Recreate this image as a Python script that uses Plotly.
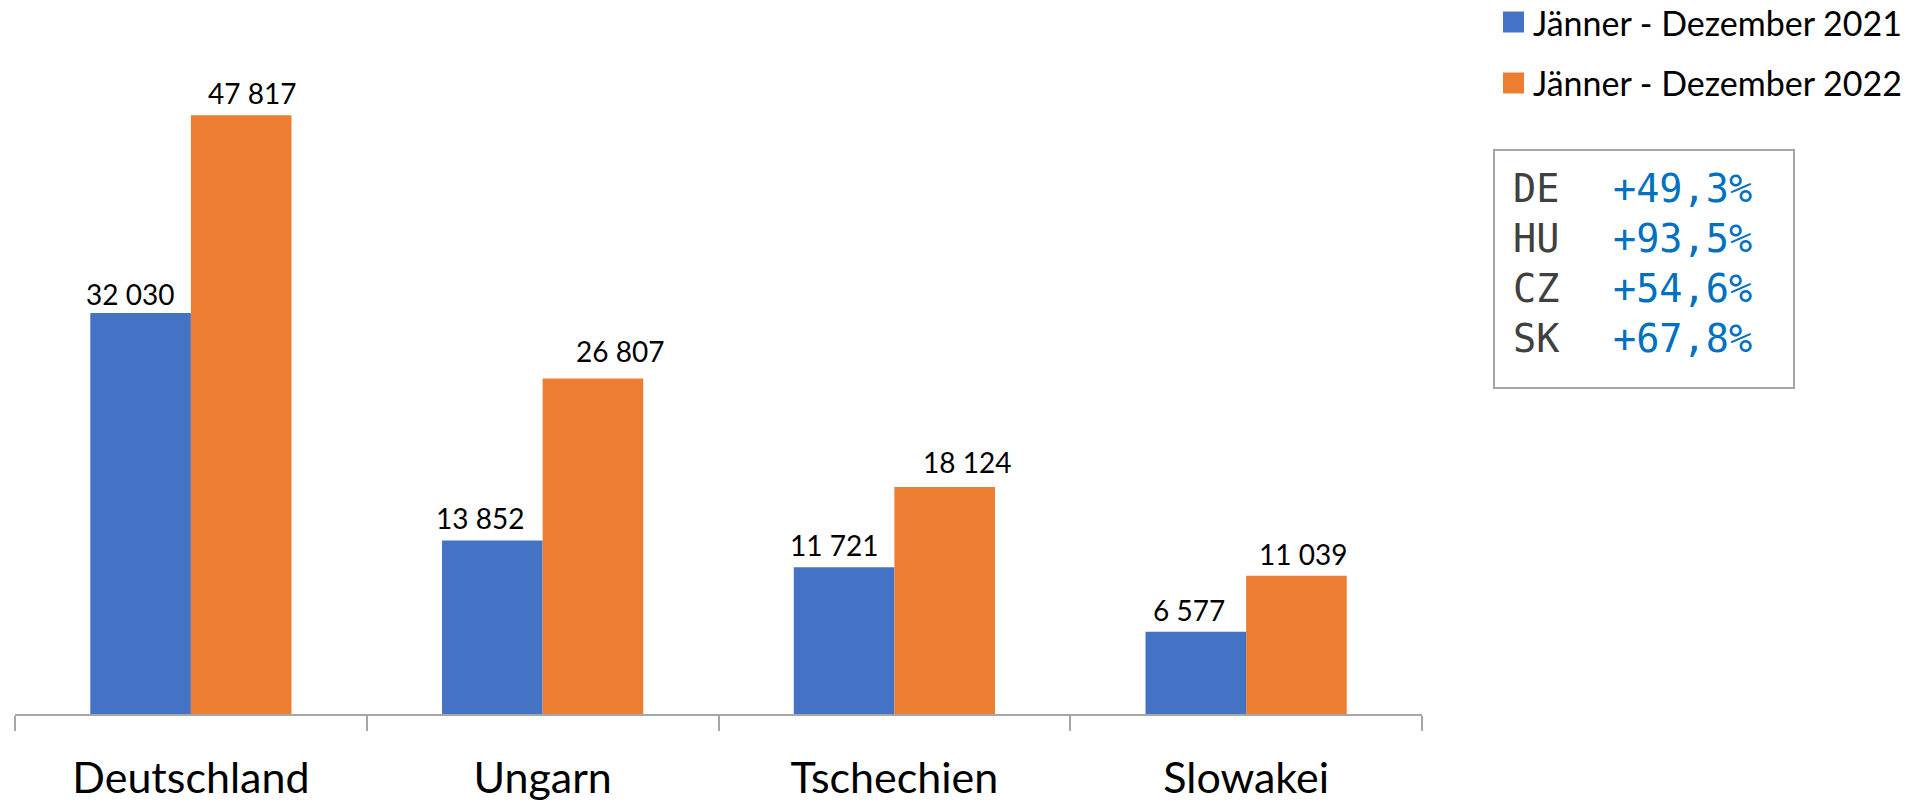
import plotly.graph_objects as go

categories = ["Deutschland", "Ungarn", "Tschechien", "Slowakei"]
series_names = ["Jänner - Dezember 2021", "Jänner - Dezember 2022"]
values_2021 = [32030, 13852, 11721, 6577]
values_2022 = [47817, 26807, 18124, 11039]
box_codes = ["DE", "HU", "CZ", "SK"]
box_changes = ["+49,3%", "+93,5%", "+54,6%", "+67,8%"]

colors = ["#4472C4", "#ED7D31"]
# label placement (pixel offsets relative to each bar's centre / top)
label_dx = [[-11, -13, -10, -7], [11, 27, 23, 7]]
label_gap = [[8, 12, 11, 11], [11, 16, 14, 11]]

W, H = 1911, 802
ML, MR, MT, MB = 15, 489, 88, 88
PW = W - ML - MR
PH = H - MT - MB
BAR_HALF = 50


def px_x(p):
    return (p - ML) / PW


def px_y(p):
    return (H - MB - p) / PH


def fmt(v):
    return f"{v:,}".replace(",", " ")


fig = go.Figure()
all_vals = [values_2021, values_2022]
for i, (name, vals) in enumerate(zip(series_names, all_vals)):
    fig.add_trace(go.Bar(
        x=categories, y=vals, name=name,
        marker=dict(color=colors[i], line=dict(width=0)),
        showlegend=False,
    ))
    side = -1 if i == 0 else 1
    for j, (c, v) in enumerate(zip(categories, vals)):
        fig.add_annotation(x=c, y=v, xref="x", yref="y", text=fmt(v),
                           showarrow=False, xanchor="center", yanchor="bottom",
                           xshift=side * BAR_HALF + label_dx[i][j],
                           yshift=label_gap[i][j] - 8,
                           font=dict(family="Lato", size=28, color="#000000"))

# legend (manual)
legend_rows = [22, 83]
for i, name in enumerate(series_names):
    yc = legend_rows[i]
    fig.add_shape(type="rect", xref="paper", yref="paper",
                  x0=px_x(1503), x1=px_x(1524), y0=px_y(yc + 10.5), y1=px_y(yc - 10.5),
                  line=dict(width=0), fillcolor=colors[i])
    fig.add_annotation(xref="paper", yref="paper", x=px_x(1531), y=px_y(yc),
                       xanchor="left", yanchor="middle", showarrow=False, text=name,
                       font=dict(family="Lato", size=34, color="#000000"))

fig.update_layout(
    width=W, height=H,
    margin=dict(l=ML, r=MR, t=MT, b=MB, autoexpand=False),
    paper_bgcolor="white", plot_bgcolor="white",
    barmode="group", bargap=0.428, bargroupgap=0,
    font=dict(family="Lato", color="#000000"),
    showlegend=False,
    xaxis=dict(
        showline=True, linecolor="#A6A6A6", linewidth=2,
        ticks="outside", tickson="boundaries", ticklen=15, tickcolor="#A6A6A6", tickwidth=2,
        tickfont=dict(family="Lato", size=43, color="#000000"),
        ticklabelstandoff=25, automargin=False,
        showgrid=False, zeroline=False, fixedrange=True,
    ),
    yaxis=dict(range=[0, 50000], visible=False, showgrid=False, zeroline=False, automargin=False),
)

# info box
fig.add_shape(type="rect", xref="paper", yref="paper",
              x0=px_x(1494), x1=px_x(1794), y0=px_y(388), y1=px_y(150),
              line=dict(color="#A6A6A6", width=2), fillcolor="white", layer="above")
fig.add_annotation(xref="paper", yref="paper", x=px_x(1511), y=px_y(263),
                   xanchor="left", yanchor="middle", align="left", showarrow=False,
                   text="<br>".join(box_codes),
                   font=dict(family="DejaVu Sans Mono", size=38.5, color="#404040"))
fig.add_annotation(xref="paper", yref="paper", x=px_x(1611), y=px_y(263),
                   xanchor="left", yanchor="middle", align="left", showarrow=False,
                   text="<br>".join(box_changes),
                   font=dict(family="DejaVu Sans Mono", size=38.5, color="#0070C0"))

fig.write_html(
    "out.html",
    config={"displayModeBar": False},
    post_script="document.body.style.margin='0';document.body.style.overflow='hidden';",
)
